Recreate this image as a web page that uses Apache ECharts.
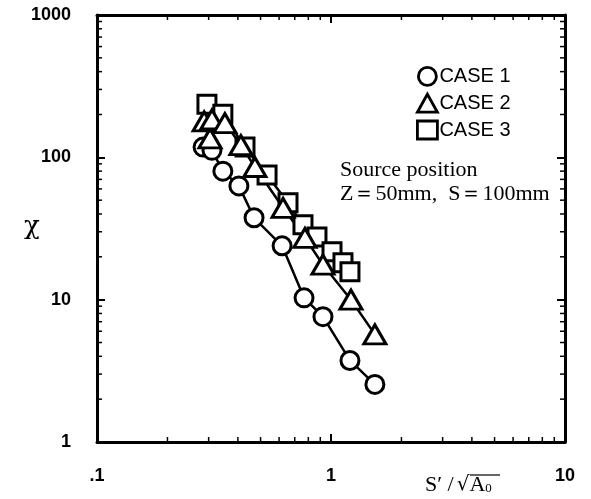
<!DOCTYPE html>
<html><head><meta charset="utf-8">
<script src="https://cdn.jsdelivr.net/npm/echarts@6/dist/echarts.min.js"></script>
<style>html,body{margin:0;padding:0;background:#fff}#c{width:591px;height:499px}</style>
</head><body><div id="c"></div>
<script>
// ---- data ----
const case1X = [0.284, 0.310, 0.345, 0.404, 0.469, 0.618, 0.767, 0.924, 1.205, 1.54];
const case1Y = [118, 112, 80, 63, 37.6, 23.9, 10.3, 7.6, 3.74, 2.54];
const case2X = [0.304, 0.287, 0.310, 0.352, 0.412, 0.473, 0.624, 0.774, 0.924, 1.217, 1.54];
const case2Y = [136, 179, 185, 174, 122, 85.5, 44.2, 27.2, 17.6, 10.0, 5.7];
const case3X = [0.295, 0.345, 0.429, 0.533, 0.655, 0.759, 0.871, 1.01, 1.125, 1.205];
const case3Y = [236, 201, 118, 75, 47.9, 33.6, 27.6, 21.7, 18.2, 15.7];
const seriesNames = ['CASE 1', 'CASE 2', 'CASE 3'];
const xTickLabels = ['.1', '1', '10'];       // for 10^-1, 10^0, 10^1
const yTickLabels = ['1', '10', '100', '1000']; // for 10^0 .. 10^3
const xMinor = [0.2,0.3,0.4,0.5,0.6,0.7,0.8,0.9,2,3,4,5,6,7,8,9];
const yMinor = [2,3,4,5,6,7,8,9,20,30,40,50,60,70,80,90,200,300,400,500,600,700,800,900];
const noteLines = ['Source position', 'Z\uFF1D50mm,  S\uFF1D100mm'];

const X_MIN = 0.1, X_MAX = 10, Y_MIN = 1, Y_MAX = 1000;
const zip = (a, b) => a.map((v, i) => [v, b[i]]);

const chart = echarts.init(document.getElementById('c'), null, {renderer: 'canvas'});
const tickFont = {fontFamily: 'Liberation Sans', fontWeight: 'bold', fontSize: 18, color: '#000'};
const markerStyle = {color: '#fff', borderColor: '#000', borderWidth: 3};

function axisBase(extra) {
  return Object.assign({
    type: 'log', logBase: 10,
    axisLine: {show: true, lineStyle: {color: '#000', width: 3}},
    axisTick: {show: true, inside: true, length: 8, lineStyle: {color: '#000', width: 2}},
    minorTick: {show: false},
    splitLine: {show: false}
  }, extra);
}

function minorTicks(isX) {
  return {
    type: 'custom', silent: true, z: 1,
    data: isX ? xMinor.map(v => [v, 1]) : yMinor.map(v => [1, v]),
    renderItem: function (params, api) {
      const v = isX ? api.value(0) : api.value(1);
      const L = 5;
      let p1, p2;
      if (isX) {
        p1 = api.coord([v, Y_MIN]); p2 = api.coord([v, Y_MAX]);
        return {type: 'group', children: [
          {type: 'line', shape: {x1: p1[0], y1: p1[1], x2: p1[0], y2: p1[1] - L}, style: {stroke: '#000', lineWidth: 1.5}},
          {type: 'line', shape: {x1: p2[0], y1: p2[1], x2: p2[0], y2: p2[1] + L}, style: {stroke: '#000', lineWidth: 1.5}}
        ]};
      } else {
        p1 = api.coord([X_MIN, v]); p2 = api.coord([X_MAX, v]);
        return {type: 'group', children: [
          {type: 'line', shape: {x1: p1[0], y1: p1[1], x2: p1[0] + L, y2: p1[1]}, style: {stroke: '#000', lineWidth: 1.5}},
          {type: 'line', shape: {x1: p2[0], y1: p2[1], x2: p2[0] - L, y2: p2[1]}, style: {stroke: '#000', lineWidth: 1.5}}
        ]};
      }
    }
  };
}

function lineSeries(name, xs, ys, symbol, size) {
  return {
    name: name, type: 'line', data: zip(xs, ys),
    symbol: symbol, symbolSize: size, showAllSymbol: true,
    lineStyle: {color: '#000', width: 2.5},
    itemStyle: markerStyle,
    emphasis: {disabled: true},
    animation: false, z: 3
  };
}

const option = {
  animation: false,
  backgroundColor: '#fff',
  grid: {left: 97, right: 26, top: 15, bottom: 57, containLabel: false},
  xAxis: [
    axisBase({min: X_MIN, max: X_MAX, position: 'bottom',
      axisLabel: Object.assign({margin: 25, formatter: v => xTickLabels[Math.round(Math.log10(v)) + 1]}, tickFont)}),
    axisBase({min: X_MIN, max: X_MAX, position: 'top', axisLabel: {show: false}})
  ],
  yAxis: [
    axisBase({min: Y_MIN, max: Y_MAX, position: 'left',
      axisLabel: Object.assign({margin: 26, formatter: v => yTickLabels[Math.round(Math.log10(v))]}, tickFont)}),
    axisBase({min: Y_MIN, max: Y_MAX, position: 'right', axisLabel: {show: false}})
  ],
  legend: {
    orient: 'vertical', left: 411, top: 61, itemGap: 6,
    itemWidth: 20, itemHeight: 18,
    textStyle: {fontFamily: 'Liberation Sans', fontSize: 20, color: '#000', padding: [0,0,0,-3]},
    itemStyle: {color: '#fff', borderColor: '#000', borderWidth: 2.8},
    data: [{name: seriesNames[0], icon: 'circle'}, {name: seriesNames[1], icon: 'triangle'}, {name: seriesNames[2], icon: 'rect'}],
    selectedMode: false
  },
  graphic: [
    {type: 'text', left: 340, top: 159, style: {text: noteLines[0], font: '22px "Liberation Serif"', fill: '#000'}},
    {type: 'text', left: 340, top: 183, style: {text: noteLines[1], font: '22px "Liberation Serif"', fill: '#000'}},
    {type: 'text', left: 24, top: 214, style: {text: 'χ', font: '26px "DejaVu Serif"', fill: '#000'}},
    {type: 'text', left: 425, top: 474, style: {
      text: '{a|S′ /}{r|√}{a|A}{s|0}',
      rich: {
        a: {font: '22px "Liberation Serif"', fill: '#000'},
        r: {font: '20px "DejaVu Serif"', fill: '#000', padding: [0, 0, 0, 3]},
        s: {font: '13px "Liberation Serif"', fill: '#000', padding: [8, 0, 0, 0]}
      }
    }},
    {type: 'line', shape: {x1: 470, y1: 475, x2: 500, y2: 475}, style: {stroke: '#000', lineWidth: 1.2}}
  ],
  series: [
    minorTicks(true), minorTicks(false),
    lineSeries(seriesNames[0], case1X, case1Y, 'circle', 18),
    lineSeries(seriesNames[2], case3X, case3Y, 'rect', 18),
    lineSeries(seriesNames[1], case2X, case2Y, 'triangle', [22, 19])
  ]
};
chart.setOption(option);
</script></body></html>
